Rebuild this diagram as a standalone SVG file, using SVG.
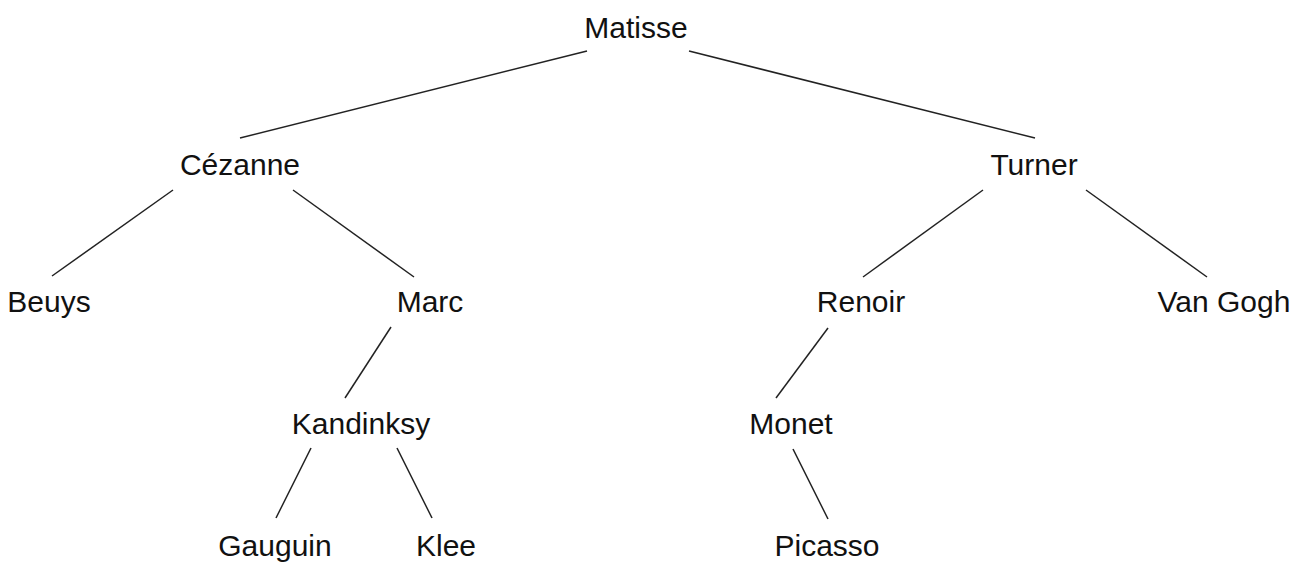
<svg xmlns="http://www.w3.org/2000/svg" width="1306" height="563" viewBox="0 0 1306 563">
<style>
text{font-family:"Liberation Sans",Arial,sans-serif;font-size:30px;fill:#111;text-anchor:middle}
line{stroke:#222;stroke-width:1.5}
</style>
<rect width="1306" height="563" fill="#fff"/>
<g id="connectors">
<line x1="587" y1="51" x2="240" y2="138"/>
<line x1="689" y1="51" x2="1035" y2="138"/>
<line x1="173" y1="190" x2="52" y2="276"/>
<line x1="293" y1="190" x2="414" y2="277"/>
<line x1="391" y1="327" x2="345" y2="398"/>
<line x1="311" y1="448" x2="276" y2="518"/>
<line x1="397" y1="448" x2="432" y2="518"/>
<line x1="983" y1="190" x2="863" y2="277"/>
<line x1="1086" y1="190" x2="1207" y2="277"/>
<line x1="828" y1="328" x2="776" y2="398"/>
<line x1="793" y1="449" x2="828" y2="519"/>
</g>
<g id="matisse"><text x="636" y="38">Matisse</text></g>
<g id="cezanne"><text x="240" y="175">Cézanne</text></g>
<g id="turner"><text x="1034" y="175">Turner</text></g>
<g id="beuys"><text x="49" y="312">Beuys</text></g>
<g id="marc"><text x="430" y="312">Marc</text></g>
<g id="renoir"><text x="861" y="312">Renoir</text></g>
<g id="vangogh"><text x="1224" y="312">Van Gogh</text></g>
<g id="kandinksy"><text x="361" y="434">Kandinksy</text></g>
<g id="monet"><text x="791" y="434">Monet</text></g>
<g id="gauguin"><text x="275" y="556">Gauguin</text></g>
<g id="klee"><text x="446" y="556">Klee</text></g>
<g id="picasso"><text x="827" y="556">Picasso</text></g>
</svg>
